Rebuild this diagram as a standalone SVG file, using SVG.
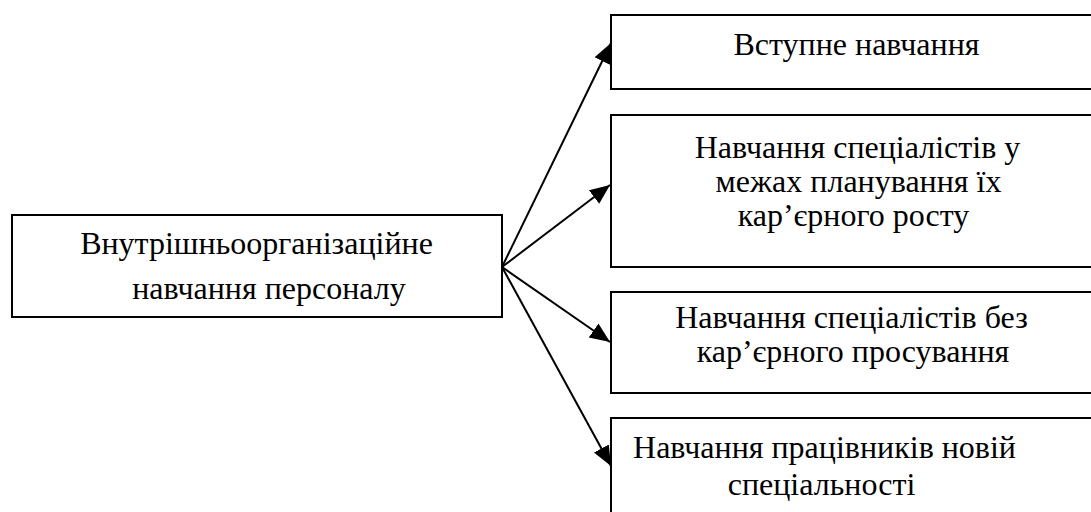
<svg xmlns="http://www.w3.org/2000/svg" width="1091" height="512" viewBox="0 0 1091 512">
<style>
.box{fill:#fff;stroke:#000;stroke-width:2}
text{font-family:'Liberation Serif','Times New Roman',serif;font-size:32px;fill:#000;text-anchor:middle}
.c{stroke:#000;stroke-width:2;fill:none;marker-end:url(#ah)}
</style>
<defs>
<marker id="ah" markerUnits="userSpaceOnUse" markerWidth="22" markerHeight="20" viewBox="0 -10 22 20" refX="20" refY="0" orient="auto">
<path d="M0,-8.5 L20,0 L0,8.5 Z" fill="#000"/>
</marker>
</defs>
<rect width="1091" height="512" fill="#fff"/>
<g id="n0">
<rect class="box" x="12" y="215" width="490" height="102"/>
<text x="256.5" y="254">Внутрішньоорганізаційне</text>
<text x="269" y="299">навчання персоналу</text>
</g>
<g id="n1">
<rect class="box" x="611" y="15" width="500" height="74"/>
<text x="856.5" y="55">Вступне навчання</text>
</g>
<g id="n2">
<rect class="box" x="611" y="115" width="500" height="152"/>
<text x="857.5" y="158">Навчання спеціалістів у</text>
<text x="858.5" y="192">межах планування їх</text>
<text x="853.5" y="226">кар’єрного росту</text>
</g>
<g id="n3">
<rect class="box" x="611" y="292" width="500" height="101"/>
<text x="851.5" y="328">Навчання спеціалістів без</text>
<text x="853" y="362">кар’єрного просування</text>
</g>
<g id="n4">
<rect class="box" x="611" y="418" width="500" height="120"/>
<text x="824.5" y="458">Навчання працівників новій</text>
<text x="821.5" y="495">спеціальності</text>
</g>
<g id="connectors">
<line class="c" x1="502" y1="267" x2="611" y2="43"/>
<line class="c" x1="502" y1="267" x2="610" y2="185"/>
<line class="c" x1="502" y1="267" x2="610" y2="342"/>
<line class="c" x1="502" y1="267" x2="611" y2="466"/>
</g>
</svg>
